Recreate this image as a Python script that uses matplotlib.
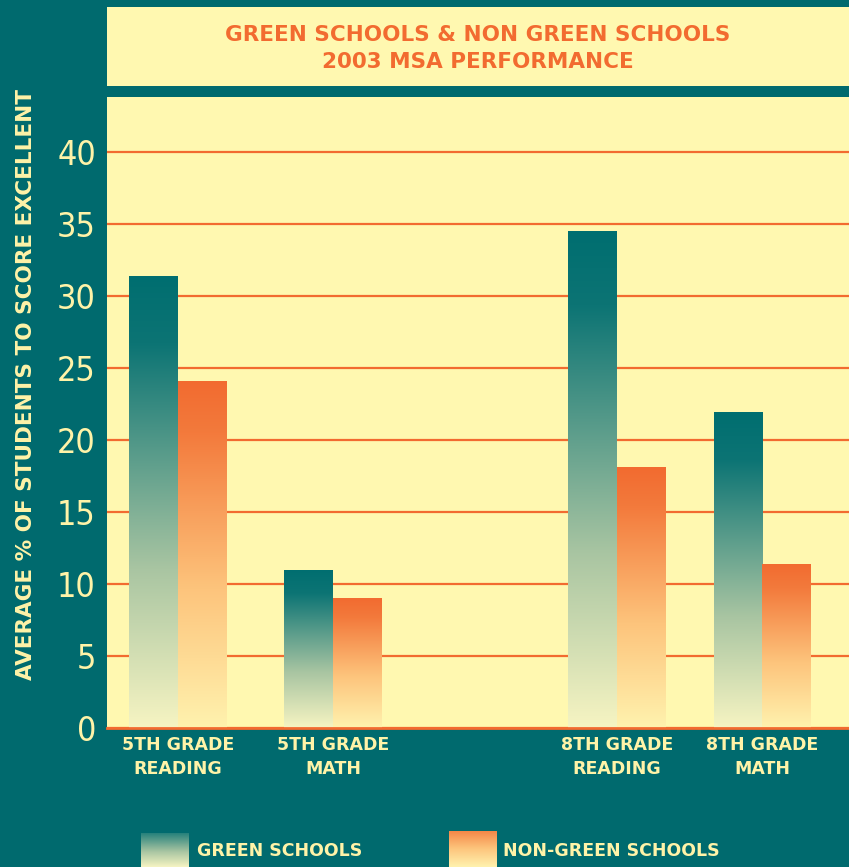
import numpy as np
import matplotlib
matplotlib.use("Agg")
import matplotlib.pyplot as plt
from matplotlib.colors import LinearSegmentedColormap
from matplotlib import font_manager


TEAL = "#006a6e"
PANEL = "#fff8b0"
ORANGE = "#f26b30"
PALE = "#fff3a8"

categories = ["5TH GRADE\nREADING", "5TH GRADE\nMATH", "8TH GRADE\nREADING", "8TH GRADE\nMATH"]
group_pos = [0.0, 1.0, 2.83, 3.77]
green_vals = [31.4, 11.0, 34.5, 21.9]
nongreen_vals = [24.1, 9.0, 18.1, 11.4]
yticks = [0, 5, 10, 15, 20, 25, 30, 35, 40]

green_cmap = LinearSegmentedColormap.from_list(
    "green_grad", [(0.0, "#f6f4c2"), (0.35, "#a9c5a2"), (0.85, "#0c7474"), (1.0, "#006e70")]
)
orange_cmap = LinearSegmentedColormap.from_list(
    "orange_grad", [(0.0, "#fff2ae"), (0.4, "#fdc47c"), (0.85, "#f37a3c"), (1.0, "#f26b30")]
)

TXT_FONT = ["DejaVu Sans"]

names = {f.name for f in font_manager.fontManager.ttflist}
stretches = {(f.name, f.stretch) for f in font_manager.fontManager.ttflist}

if "Liberation Sans Narrow" in names:
    NUM_FONT = dict(family=["Liberation Sans Narrow"], fontsize=26)
elif ("DejaVu Sans", "condensed") in stretches or ("DejaVu Sans", "semi-condensed") in stretches:
    NUM_FONT = dict(family=["DejaVu Sans"], fontstretch="condensed", fontsize=24.5)
else:
    NUM_FONT = dict(family=["DejaVu Sans"], fontsize=21)


def gradient_bar(ax, patch, cmap):
    x0 = patch.get_x()
    w = patch.get_width()
    h = patch.get_height()
    grad = np.linspace(1, 0, 256).reshape(-1, 1)
    im = ax.imshow(grad, cmap=cmap, extent=[x0, x0 + w, 0, h],
                   aspect="auto", zorder=3, interpolation="bilinear")
    im.set_clip_path(patch)


def main():
    fig = plt.figure(figsize=(8.49, 8.67), dpi=100, facecolor=TEAL)

    # title panel
    tax = fig.add_axes([107 / 849, 1 - 86 / 867, 742 / 849, 79 / 867])
    tax.set_facecolor(PANEL)
    tax.set_xticks([])
    tax.set_yticks([])
    for s in tax.spines.values():
        s.set_visible(False)
    tax.text(0.5, 0.65, "GREEN SCHOOLS & NON GREEN SCHOOLS", ha="center", va="center",
             color=ORANGE, fontsize=15.5, fontweight="bold", family=TXT_FONT,
             transform=tax.transAxes)
    tax.text(0.5, 0.31, "2003 MSA PERFORMANCE", ha="center", va="center",
             color=ORANGE, fontsize=15.5, fontweight="bold", family=TXT_FONT,
             transform=tax.transAxes)

    # main axes
    ax = fig.add_axes([107 / 849, 1 - 728 / 867, 742 / 849, 631 / 867])
    ax.set_facecolor(PANEL)
    bw = 0.313
    xs = np.array(group_pos)
    gbars = ax.bar(xs - bw / 2, green_vals, bw, facecolor="none", edgecolor="none", zorder=3)
    obars = ax.bar(xs + bw / 2, nongreen_vals, bw, facecolor="none", edgecolor="none", zorder=3)
    for p in gbars:
        gradient_bar(ax, p, green_cmap)
    for p in obars:
        gradient_bar(ax, p, orange_cmap)

    ax.set_xlim(-0.458, 4.329)
    ax.set_ylim(0, 43.8)
    ax.set_yticks(yticks)
    ax.set_yticklabels([str(t) for t in yticks], color=PALE, **NUM_FONT)
    ax.set_xticks(group_pos)
    ax.set_xticklabels(categories, family=TXT_FONT, fontsize=12.5, fontweight="bold",
                       color=PALE, linespacing=1.4)
    ax.tick_params(axis="both", length=0)
    ax.tick_params(axis="y", pad=8)
    ax.tick_params(axis="x", pad=6)
    ax.grid(axis="y", color=ORANGE, lw=1.6, zorder=1)
    ax.set_axisbelow(True)
    for side in ("top", "left", "right"):
        ax.spines[side].set_visible(False)
    ax.spines["bottom"].set_color(ORANGE)
    ax.spines["bottom"].set_linewidth(2.0)
    ax.spines["bottom"].set_zorder(4)

    fig.text(26 / 849, 1 - 384 / 867, "AVERAGE % OF STUDENTS TO SCORE EXCELLENT",
             rotation=90, ha="center", va="center", color=PALE, fontsize=15.5,
             fontweight="bold", family=TXT_FONT)

    # legend with gradient swatches
    grad = np.linspace(1, 0, 256).reshape(-1, 1)
    for left, top, cmap, label, tx in [
        (141, 833, green_cmap, "GREEN SCHOOLS", 197),
        (449, 831, orange_cmap, "NON-GREEN SCHOOLS", 503),
    ]:
        sax = fig.add_axes([left / 849, 0, 48 / 849, (867 - top) / 867])
        sax.imshow(grad, cmap=cmap, aspect="auto", extent=[0, 1, 0, 1.3],
                   interpolation="bilinear")
        sax.set_ylim(0, 1)
        sax.axis("off")
        fig.text(tx / 849, 1 - 851 / 867, label, ha="left", va="center", color=PALE,
                 fontsize=12.5, fontweight="bold", family=TXT_FONT)

    fig.savefig("out.png", dpi=100, facecolor=TEAL)


if __name__ == "__main__":
    main()
